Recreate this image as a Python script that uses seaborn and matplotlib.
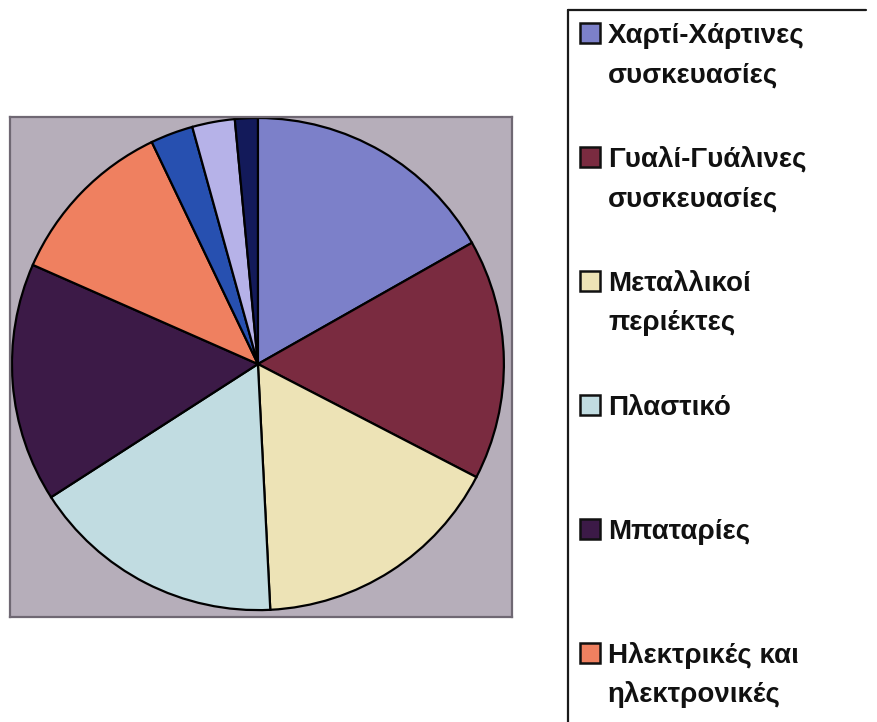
import matplotlib
matplotlib.use('Agg')
import matplotlib.pyplot as plt
from matplotlib.patches import Rectangle
from matplotlib.lines import Line2D
import seaborn as sns

# Μερίδια ανά ρεύμα ανακύκλωσης (%), δεξιόστροφα από τις 12:00
shares = [16.8, 15.8, 16.6, 16.7, 15.7, 11.3, 2.8, 2.8, 1.5]
colors = ['#7c80c9', '#7a2b40', '#ede3b6', '#c1dce1', '#3c1a47',
          '#ef8060', '#2750b0', '#b6b2e8', '#131a5a']
# ορατές εγγραφές του υπομνήματος (οι υπόλοιπες κόβονται από το κάδρο)
labels = ['Χαρτί-Χάρτινες\nσυσκευασίες',
          'Γυαλί-Γυάλινες\nσυσκευασίες',
          'Μεταλλικοί\nπεριέκτες',
          'Πλαστικό',
          'Μπαταρίες',
          'Ηλεκτρικές και\nηλεκτρονικές\nσυσκευές']

sns.set_theme(style='white')
plt.rcParams['font.family'] = ['Liberation Sans', 'DejaVu Sans']

W, H = 877, 722
fig = plt.figure(figsize=(W / 100, H / 100), dpi=100)
fig.patch.set_facecolor('white')


def fx(x):
    return x / W


def fy(y):
    return 1 - y / H


# pie area (gray square)
ax = fig.add_axes([fx(10), fy(617), fx(502), 500 / H])
pal = sns.color_palette(colors)
ax.pie(shares, colors=pal, startangle=90, counterclock=False,
       wedgeprops=dict(edgecolor='black', linewidth=1.6), frame=True)
ax.set_aspect('auto')
ax.set_xlim(-1.008, 1.033)
ax.set_ylim(-1.028, 1.004)
ax.set_xticks([])
ax.set_yticks([])
ax.set_facecolor('#b6aeba')
for s in ax.spines.values():
    s.set_color('#6f6873')
    s.set_linewidth(1.6)

# legend frame (only top and left edges visible)
fig.add_artist(Line2D([fx(568), fx(866)], [fy(10), fy(10)],
                      color='#1a1a1a', linewidth=1.6))
fig.add_artist(Line2D([fx(568), fx(568)], [fy(10), fy(730)],
                      color='#1a1a1a', linewidth=1.6))

# legend entries: one slot of 124 px each, lines 39 px apart
for i, lab in enumerate(labels):
    base = 43 + 124 * i
    fig.add_artist(Rectangle((fx(580), fy(base)), fx(20), 20 / H,
                             facecolor=pal[i], edgecolor='#111111',
                             linewidth=1.8))
    for j, line in enumerate(lab.split('\n')):
        fig.text(fx(608), fy(base + 39 * j), line, fontsize=20,
                 fontweight='bold', color='#111111',
                 ha='left', va='baseline')

fig.savefig('out.png', dpi=100)
